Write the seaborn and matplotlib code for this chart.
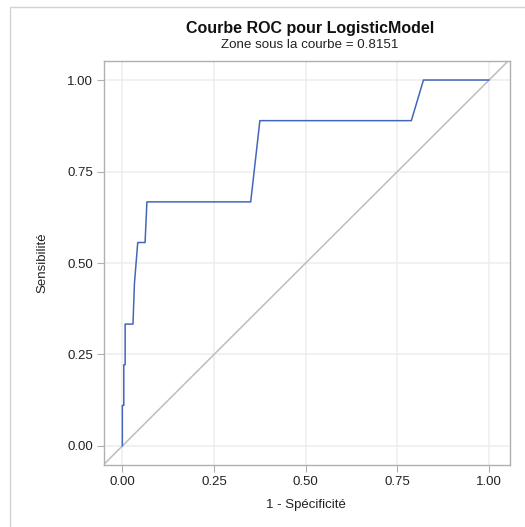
import matplotlib
matplotlib.use("Agg")
import matplotlib.pyplot as plt
from matplotlib.lines import Line2D
from matplotlib.ticker import FormatStrFormatter
import pandas as pd
import seaborn as sns

# ROC curve points for the logistic model
fpr = [0.0, 0.0, 0.004, 0.004, 0.0076, 0.0076, 0.029, 0.033, 0.042,
       0.062, 0.067, 0.350, 0.375, 0.788, 0.821, 1.0]
tpr = [0.0, 0.111, 0.111, 0.222, 0.222, 0.333, 0.333, 0.444, 0.556,
       0.556, 0.667, 0.667, 0.889, 0.889, 1.0, 1.0]
ticks = [0.0, 0.25, 0.5, 0.75, 1.0]
auc = 0.8151

title = "Courbe ROC pour LogisticModel"
subtitle = f"Zone sous la courbe = {auc:.4f}"
xlabel = "1 - Spécificité"
ylabel = "Sensibilité"

sns.set_theme(style="whitegrid")
plt.rcParams["font.family"] = ["Liberation Sans", "DejaVu Sans"]

df = pd.DataFrame({"fpr": fpr, "tpr": tpr})

W, H = 525, 527
fig = plt.figure(figsize=(W / 100, H / 100), dpi=100)
ax = fig.add_axes([104 / W, 1 - 465 / H, (510 - 104) / W, (465 - 61) / H])

# chance diagonal
ax.axline((0, 0), (1, 1), color="#BDBDBD", lw=1.1, zorder=2)

sns.lineplot(data=df, x="fpr", y="tpr", sort=False, estimator=None,
             color="#4466BB", lw=1.1, ax=ax, zorder=3)

ax.set_xlim(-0.05, 1.057)
ax.set_ylim(-0.052, 1.052)
ax.set_xticks(ticks)
ax.set_yticks(ticks)
ax.xaxis.set_major_formatter(FormatStrFormatter("%.2f"))
ax.yaxis.set_major_formatter(FormatStrFormatter("%.2f"))

ax.grid(True, color="#EDEDED", lw=1.1)
ax.set_axisbelow(True)
for s in ax.spines.values():
    s.set_color("#B0B0B0")
    s.set_linewidth(1.0)

ax.tick_params(axis="both", which="major", direction="out", length=5,
               width=0.8, color="#B0B0B0", labelsize=9.5, labelcolor="#222222",
               pad=3, left=True, bottom=True)

ax.set_xlabel("")
ax.set_ylabel("")
fig.text(306 / W, 1 - 505 / H, xlabel, ha="center", va="center",
         fontsize=9.5, color="#222222")
fig.text(42 / W, 1 - 263 / H, ylabel, ha="center", va="center",
         rotation=90, fontsize=9.5, color="#222222")

fig.text(310 / W, 1 - 28.5 / H, title, ha="center", va="center",
         fontsize=11.5, fontweight="bold", color="#111111")
fig.text(310 / W, 1 - 45.5 / H, subtitle, ha="center", va="center",
         fontsize=9.6, color="#222222")

# outer panel border
fig.add_artist(Line2D([9.5 / W, 9.5 / W], [0, 1 - 6.5 / H],
                      transform=fig.transFigure, color="#D3D3D3", lw=1.0))
fig.add_artist(Line2D([9.5 / W, 1], [1 - 6.5 / H, 1 - 6.5 / H],
                      transform=fig.transFigure, color="#D3D3D3", lw=1.0))

fig.savefig("out.png", dpi=100)
